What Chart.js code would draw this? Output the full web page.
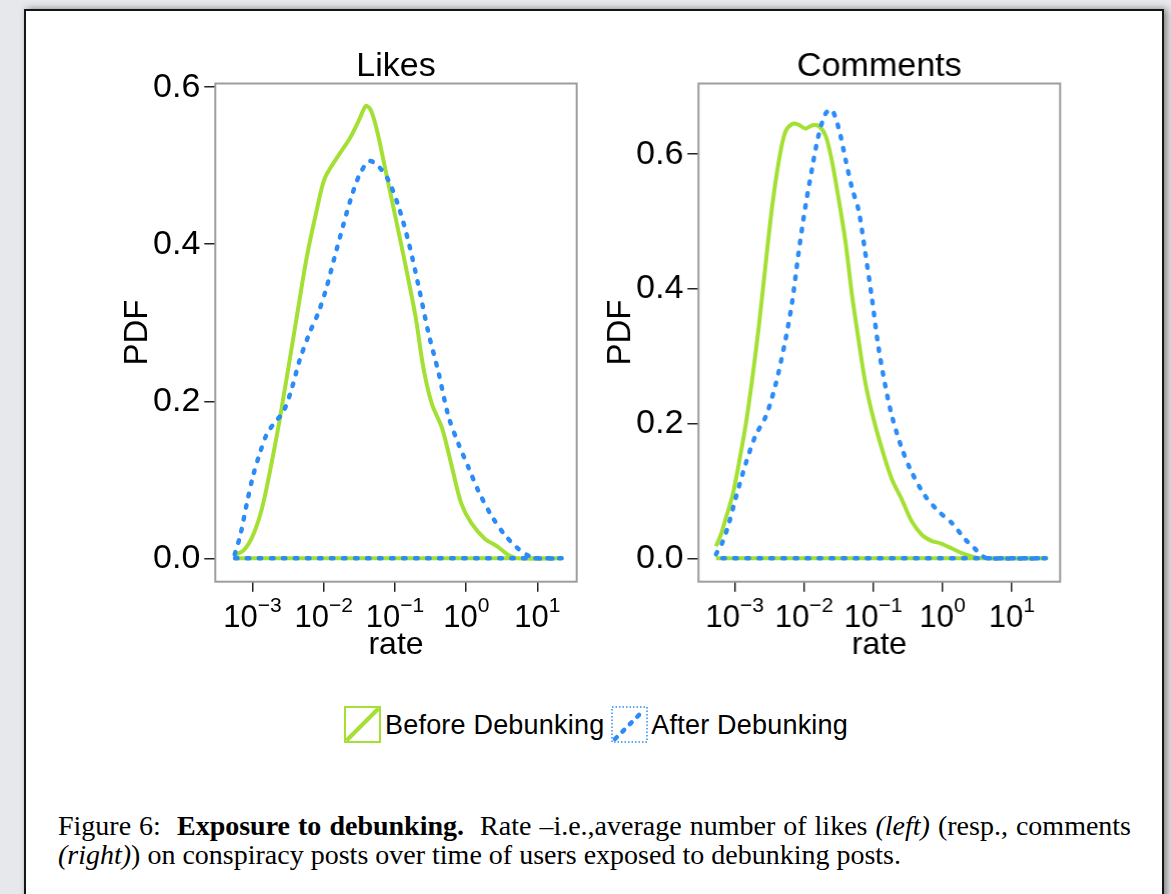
<!DOCTYPE html>
<html>
<head>
<meta charset="utf-8">
<script src="https://cdn.jsdelivr.net/npm/chart.js@4.4.0/dist/chart.umd.min.js"></script>
<style>
html,body{margin:0;padding:0;overflow:hidden;}
body{width:1171px;height:894px;background:#e7e8eb;position:relative;overflow:hidden;font-family:"Liberation Sans",Arial,sans-serif;}
#paper{position:absolute;left:24px;top:9px;width:1136px;height:910px;background:#fff;border:2px solid #151515;box-shadow:3px 0 7px rgba(0,0,0,0.45);}
.cw{position:absolute;height:640px;}
#w1{left:100px;top:40px;width:592px;}
#w2{left:590px;top:40px;width:577.6px;}
#legend{position:absolute;left:344px;top:706px;height:37px;display:flex;align-items:flex-start;font-size:27px;letter-spacing:0.2px;color:#000;}
#legend .txt{line-height:37px;position:relative;top:1px;}
#legend svg{display:block;}
#caption{position:absolute;left:58px;top:811px;width:1073px;font-family:"Liberation Serif","Times New Roman",serif;font-size:28px;line-height:29px;color:#000;}
#caption .l1{text-align:justify;text-align-last:justify;white-space:nowrap;}
</style>
</head>
<body>
<div id="paper"></div>
<div class="cw" id="w1"><canvas id="c1"></canvas></div>
<div class="cw" id="w2"><canvas id="c2"></canvas></div>
<div id="legend">
  <svg width="37" height="37"><rect x="1" y="1" width="35" height="35" fill="none" stroke="#a3e033" stroke-width="2"/><line x1="2.5" y1="34.5" x2="34.5" y2="2.5" stroke="#a3e033" stroke-width="4"/></svg>
  <span class="txt" style="margin-left:4px;">Before Debunking</span>
  <svg width="37" height="37" style="margin-left:7px;"><rect x="1" y="1" width="35" height="35" fill="none" stroke="#2b8cf7" stroke-width="1.5" stroke-dasharray="1.5 2"/><line x1="4" y1="33" x2="33" y2="4" stroke="#2b8cf7" stroke-width="4.5" stroke-linecap="round" stroke-dasharray="2.5 8"/></svg>
  <span class="txt" style="margin-left:3px;">After Debunking</span>
</div>
<div id="caption">
  <div class="l1">Figure 6:&nbsp; <b>Exposure to debunking.</b>&nbsp; Rate –i.e.,average number of likes <i>(left)</i> (resp., comments</div>
  <div class="l2"><i>(right)</i>) on conspiracy posts over time of users exposed to debunking posts.</div>
</div>
<script>
// ---- data (x values are log10(rate), y values are PDF) ----
const tickExponents = [-3, -2, -1, 0, 1];
const yTickValues = [0, 0.2, 0.4, 0.6];

const likesBeforeExp = [-3.25,-3.125,-2.99,-2.85,-2.66,-2.52,-2.38,-2.24,-2.10,-1.99,-1.83,-1.64,-1.50,-1.41,-1.34,-1.25,-1.13,-0.99,-0.85,-0.71,-0.60,-0.48,-0.34,-0.20,-0.07,0.07,0.26,0.44,0.58,0.72,1.34];
const likesBeforePdf = [0.004,0.01,0.03,0.07,0.156,0.23,0.307,0.383,0.443,0.483,0.508,0.534,0.559,0.576,0.571,0.544,0.493,0.433,0.372,0.307,0.242,0.196,0.166,0.116,0.070,0.045,0.025,0.015,0.005,0.0,0.0];

const likesAfterExp = [-3.25,-3.17,-3.08,-2.99,-2.89,-2.80,-2.68,-2.57,-2.45,-2.34,-2.20,-2.08,-1.97,-1.85,-1.73,-1.62,-1.50,-1.36,-1.22,-1.09,-0.95,-0.81,-0.67,-0.53,-0.39,-0.25,-0.11,0.03,0.17,0.35,0.54,0.72,0.86,1.0,1.34];
const likesAfterPdf = [0.005,0.03,0.07,0.106,0.136,0.158,0.174,0.186,0.216,0.252,0.287,0.312,0.342,0.383,0.423,0.458,0.488,0.506,0.498,0.481,0.448,0.403,0.347,0.287,0.237,0.181,0.146,0.116,0.086,0.055,0.030,0.013,0.004,0.0,0.0];

const commentsBeforeExp = [-3.27,-3.20,-3.13,-3.03,-2.94,-2.84,-2.75,-2.65,-2.55,-2.46,-2.36,-2.27,-2.17,-2.08,-1.98,-1.88,-1.79,-1.69,-1.60,-1.50,-1.40,-1.31,-1.21,-1.12,-1.02,-0.88,-0.73,-0.59,-0.45,-0.30,-0.16,-0.02,0.13,0.27,0.42,0.56,1.50];
const commentsBeforePdf = [0.018,0.035,0.059,0.094,0.141,0.199,0.264,0.346,0.44,0.522,0.592,0.633,0.645,0.644,0.638,0.643,0.642,0.628,0.592,0.534,0.469,0.393,0.323,0.264,0.217,0.164,0.117,0.088,0.056,0.035,0.026,0.022,0.015,0.008,0.003,0.0,0.0];

const commentsAfterExp = [-3.27,-3.18,-3.08,-2.99,-2.84,-2.70,-2.55,-2.41,-2.27,-2.17,-2.08,-1.98,-1.88,-1.79,-1.69,-1.60,-1.50,-1.40,-1.31,-1.21,-1.12,-1.02,-0.93,-0.83,-0.73,-0.59,-0.45,-0.26,-0.06,0.13,0.32,0.46,0.58,0.66,1.50];
const commentsAfterPdf = [0.006,0.023,0.053,0.088,0.141,0.182,0.211,0.258,0.323,0.381,0.452,0.522,0.581,0.628,0.660,0.666,0.639,0.592,0.551,0.516,0.457,0.387,0.317,0.258,0.211,0.164,0.129,0.094,0.070,0.053,0.029,0.015,0.003,0.0,0.0];

// ---- helpers ----
const FONT = '"Liberation Sans", Arial, sans-serif';
const GREEN = '#a3e033';
const BLUE = '#2b8cf7';

// density polygon: curve, then closed back along zero (as R's density plot with polygon)
function densityPoints(exps, pdfs) {
  const pts = exps.map((e, i) => ({ x: Math.pow(10, e), y: pdfs[i] }));
  pts.push({ x: Math.pow(10, exps[exps.length - 1]), y: 0 });
  pts.push({ x: Math.pow(10, exps[0]), y: 0 });
  return pts;
}

const boxPlugin = {
  id: 'rbox',
  afterDraw(chart) {
    const a = chart.chartArea, ctx = chart.ctx;
    ctx.save();
    ctx.strokeStyle = '#9d9d9d';
    ctx.lineWidth = 2;
    ctx.strokeRect(a.left, a.top, a.right - a.left, a.bottom - a.top);
    ctx.restore();
  }
};

const expLabelPlugin = {
  id: 'expLabels',
  afterDraw(chart) {
    const sc = chart.scales.x, ctx = chart.ctx;
    ctx.save();
    ctx.fillStyle = '#000';
    ctx.textBaseline = 'alphabetic';
    ctx.textAlign = 'left';
    tickExponents.forEach(e => {
      const x = sc.getPixelForValue(Math.pow(10, e));
      const base = '10';
      const sup = e < 0 ? '\u2212' + Math.abs(e) : String(e);
      ctx.font = '31px ' + FONT;
      const wb = ctx.measureText(base).width;
      ctx.font = '21px ' + FONT;
      const ws = ctx.measureText(sup).width;
      const x0 = x - (wb + ws) / 2;
      const yb = sc.top + 45;
      ctx.font = '31px ' + FONT;
      ctx.fillText(base, x0, yb);
      ctx.font = '21px ' + FONT;
      ctx.fillText(sup, x0 + wb, yb - 15);
    });
    ctx.restore();
  }
};

function makeChart(id, title, before, after, cfg) {
  return new Chart(document.getElementById(id), {
    type: 'scatter',
    data: {
      datasets: [
        { label: 'After Debunking', data: after, showLine: true, borderColor: BLUE, borderWidth: 4.5,
          borderDash: [2.5, 9.5], borderCapStyle: 'round', pointRadius: 0, tension: 0.3, order: 0 },
        { label: 'Before Debunking', data: before, showLine: true, borderColor: GREEN, borderWidth: 4,
          pointRadius: 0, tension: 0.3, order: 1, borderJoinStyle: 'round' }
      ]
    },
    options: {
      responsive: true,
      maintainAspectRatio: false,
      animation: false,
      layout: { padding: { left: 0, top: 0, right: cfg.padRight, bottom: 0 } },
      plugins: {
        legend: { display: false },
        tooltip: { enabled: false },
        title: { display: true, text: title, color: '#000', fullSize: false,
          font: { family: FONT, size: 34, weight: 'normal', lineHeight: 1 },
          padding: { top: 9.5, bottom: cfg.titlePadBottom } }
      },
      scales: {
        x: {
          type: 'logarithmic',
          min: Math.pow(10, cfg.xMinExp),
          max: Math.pow(10, cfg.xMaxExp),
          afterBuildTicks: s => { s.ticks = tickExponents.map(e => ({ value: Math.pow(10, e) })); },
          afterFit: s => { s.height = cfg.xAxisHeight; s.paddingLeft = 0; s.paddingRight = 0; },
          ticks: { display: false },
          grid: { display: true, drawOnChartArea: false, drawTicks: true, tickLength: 10, color: '#222', lineWidth: 1.5 },
          border: { display: false },
          title: { display: true, text: 'rate', color: '#000',
            font: { family: FONT, size: 32, weight: 'normal' }, padding: { top: 0, bottom: 16 } }
        },
        y: {
          type: 'linear',
          min: cfg.yMin,
          max: cfg.yMax,
          afterBuildTicks: s => { s.ticks = yTickValues.map(v => ({ value: v })); },
          afterFit: s => { s.width = cfg.yAxisWidth; s.paddingTop = 0; s.paddingBottom = 0; },
          ticks: { color: '#000', font: { family: FONT, size: 34 }, padding: 4,
            callback: v => Number(v).toFixed(1) },
          grid: { display: true, drawOnChartArea: false, drawTicks: true, tickLength: 11, color: '#222', lineWidth: 1.5 },
          border: { display: false },
          title: { display: true, text: 'PDF', color: '#000',
            font: { family: FONT, size: 33, weight: 'normal' }, padding: { top: cfg.yTitlePad, bottom: 0 } }
        }
      }
    },
    plugins: [boxPlugin, expLabelPlugin]
  });
}

makeChart('c1', 'Likes',
  densityPoints(likesBeforeExp, likesBeforePdf),
  densityPoints(likesAfterExp, likesAfterPdf),
  { padRight: 115.3, titlePadBottom: 0, xMinExp: -3.468, xMaxExp: 1.551, yMin: -0.0298, yMax: 0.6047,
    xAxisHeight: 98.3, yAxisWidth: 115.3, yTitlePad: 18 });

makeChart('c2', 'Comments',
  densityPoints(commentsBeforeExp, commentsBeforePdf),
  densityPoints(commentsAfterExp, commentsAfterPdf),
  { padRight: 108.3, titlePadBottom: 0, xMinExp: -3.489, xMaxExp: 1.698, yMin: -0.0347, yMax: 0.705,
    xAxisHeight: 98.3, yAxisWidth: 108.3, yTitlePad: 11 });
</script>
</body>
</html>
